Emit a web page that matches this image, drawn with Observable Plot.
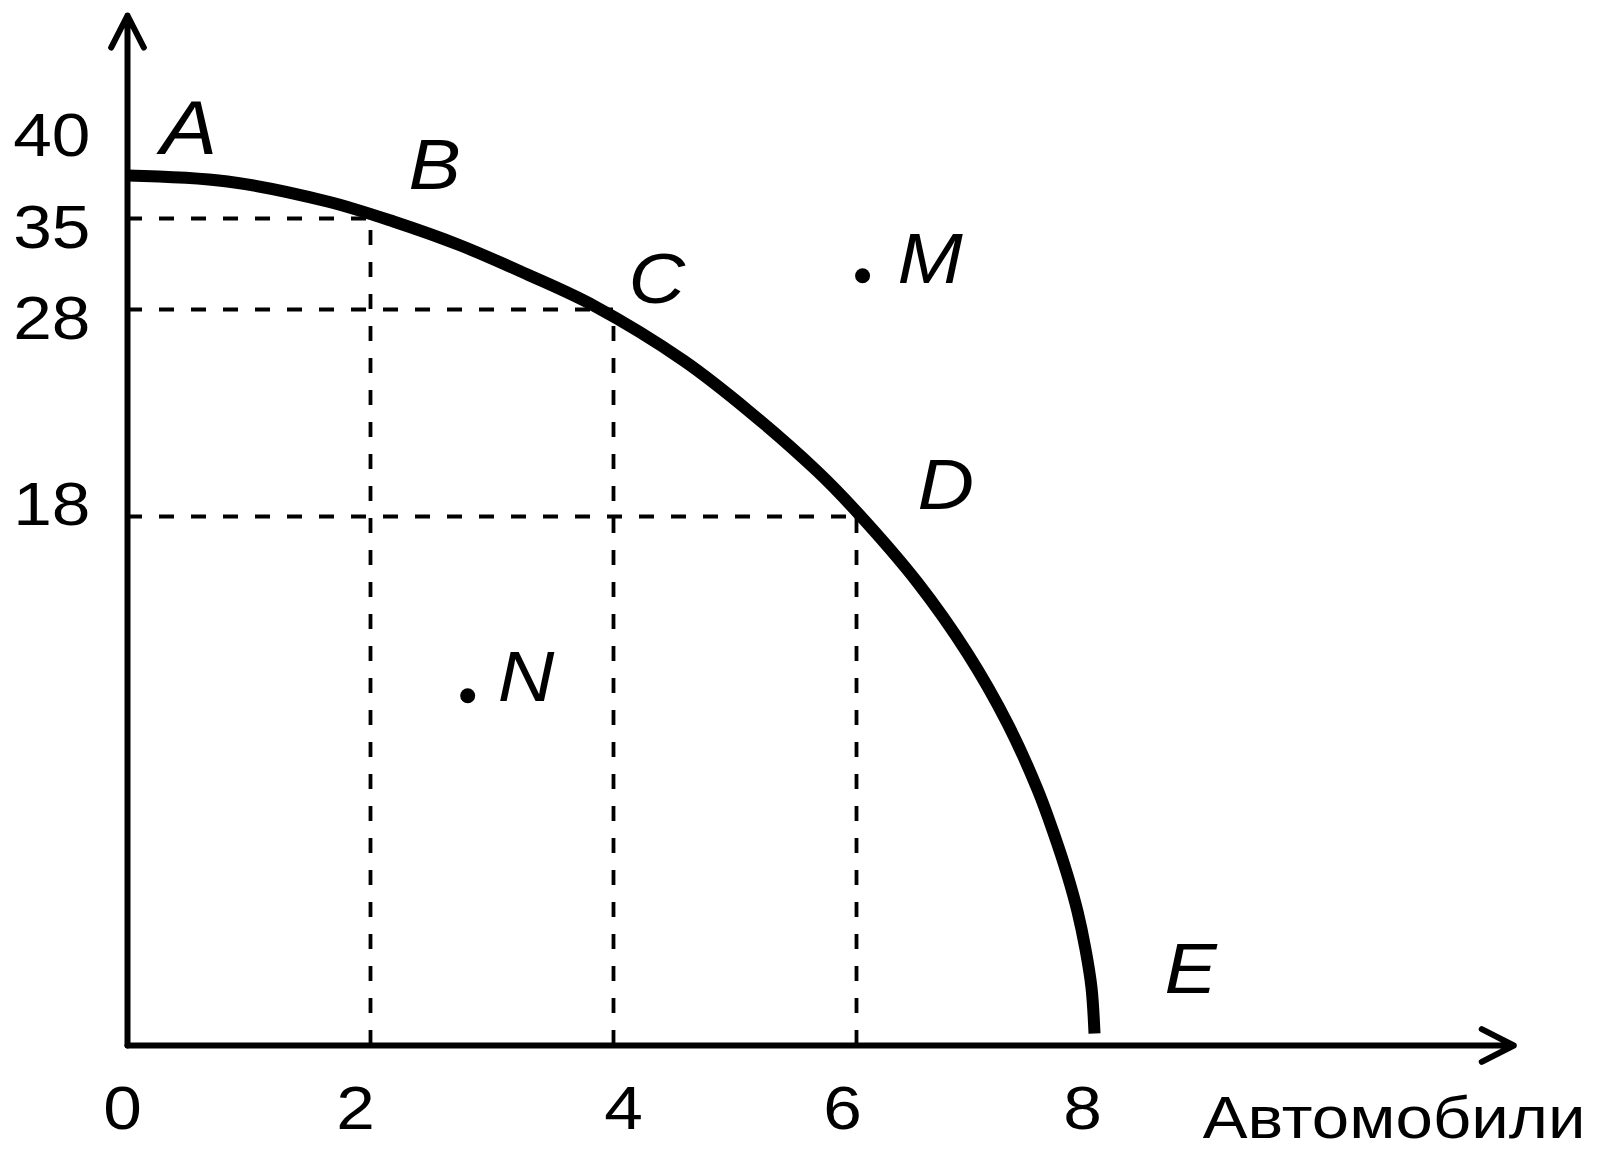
<!DOCTYPE html>
<html>
<head>
<meta charset="utf-8">
<script src="https://cdn.jsdelivr.net/npm/d3@7"></script>
<script src="https://cdn.jsdelivr.net/npm/@observablehq/plot@0.6"></script>
<style>
html, body { margin: 0; padding: 0; background: #fff; }
#chart svg { display: block; }
</style>
</head>
<body>
<div id="chart"></div>
<script>
// Production possibility frontier
const curveX = [0, 0.823, 1.646, 2.189, 2.741, 3.292, 3.835, 4.576, 5.128, 5.679, 5.992, 6.502, 6.914, 7.243, 7.490, 7.621, 7.737, 7.819, 7.885, 7.934, 7.959];
const curveY = [37.337, 37.011, 35.924, 34.769, 32.923, 30.692, 28.308, 25.536, 23.024, 20.174, 18.290, 15.754, 13.338, 10.957, 8.711, 7.248, 5.785, 4.560, 3.267, 1.974, 0.408];

// Labelled points
const pointNames = ["A", "B", "C", "D", "E", "M", "N"];
const pointX = [0, 2, 4, 6, 8, 6.05, 2.8];
const pointY = [37.337, 35, 28, 18, 0, 30.6, 11.9];
const guideNames = ["B", "C", "D"];
const dotNames = ["M", "N"];

// Axes
const xTicks = [0, 2, 4, 6, 8];
const yTicksUpper = [28, 35, 40];
const yTicksLower = [18];
const xAxisEnd = 11.41;
const yAxisEnd = 45;
const xTitle = "Автомобили";

// Tables built from the arrays
const curve = curveX.map((x, i) => ({x, y: curveY[i]}));
const points = pointNames.map((name, i) => ({name, x: pointX[i], y: pointY[i]}));
const guides = points.filter(d => guideNames.includes(d.name));
const dots = points.filter(d => dotNames.includes(d.name));
const axes = [
  {x1: 0, y1: 0, x2: 0, y2: yAxisEnd},
  {x1: 0, y1: 0, x2: xAxisEnd, y2: 0}
];

// Label offsets (style only)
const labelOffset = {
  A: {dx: 33, dy: -21, size: 76},
  B: {dx: 38, dy: -30, size: 70},
  C: {dx: 15, dy: -7, size: 70},
  D: {dx: 61, dy: -8, size: 70},
  E: {dx: 65, dy: -53, size: 70},
  M: {dx: 35, dy: 7, size: 70},
  N: {dx: 30, dy: 5, size: 70}
};
const xTickDx = {0: -5, 2: -15, 4: 10, 6: -14, 8: -17};

const labelMarks = pointNames.map(n => Plot.text(points.filter(d => d.name === n), {
  x: "x", y: "y", text: "name",
  dx: labelOffset[n].dx, dy: labelOffset[n].dy,
  textAnchor: "start", lineAnchor: "bottom",
  fontSize: labelOffset[n].size, fontStyle: "italic", fill: "black"
}));

const xTickMarks = xTicks.map(t => Plot.text([t], {
  x: d => d, y: 0, text: d => String(d), dx: xTickDx[t], dy: 83,
  lineAnchor: "bottom", textAnchor: "middle", fontSize: 62, fill: "black"
}));

const chart = Plot.plot({
  width: 1601,
  height: 1152,
  marginRight: 16,
  marginBottom: 15,
  style: {fontFamily: "'Liberation Sans', Arial, sans-serif", background: "white", color: "black"},
  x: {type: "linear", domain: [0, 8], range: [127, 1099], axis: null},
  y: {type: "linear", domain: [0, 18, 28, 35, 40, 45], range: [1045, 516, 309, 218, 126, 15], axis: null},
  marks: [
    // dashed guides
    Plot.ruleY(guides, {y: "y", x1: 0, x2: "x", stroke: "black", strokeWidth: 3.8, strokeDasharray: "15,17"}),
    Plot.ruleX(guides, {x: "x", y1: 0, y2: "y", stroke: "black", strokeWidth: 3.8, strokeDasharray: "15,17"}),
    // axes with arrows
    Plot.arrow(axes, {x1: "x1", y1: "y1", x2: "x2", y2: "y2", stroke: "black", strokeWidth: 6, headLength: 9, headAngle: 54}),
    // frontier
    Plot.line(curve, {x: "x", y: "y", curve: "catmull-rom", stroke: "black", strokeWidth: 12, strokeLinecap: "butt"}),
    // points M and N
    Plot.dot(dots, {x: "x", y: "y", r: 7.5, fill: "black"}),
    // tick labels
    ...xTickMarks,
    Plot.text(yTicksUpper, {x: 0, y: d => d, text: d => String(d), dx: -37, dy: 10, textAnchor: "end", lineAnchor: "middle", fontSize: 62, fill: "black"}),
    Plot.text(yTicksLower, {x: 0, y: d => d, text: d => String(d), dx: -37, dy: -11, textAnchor: "end", lineAnchor: "middle", fontSize: 62, fill: "black"}),
    // axis title
    Plot.text([xTitle], {frameAnchor: "bottom-right", text: d => d, textAnchor: "end", lineAnchor: "bottom", fontSize: 60, fill: "black"}),
    ...labelMarks
  ]
});

// Slightly wider lettering, as in the reference (horizontal scale about each text's anchor)
d3.select(chart).selectAll("text").each(function () {
  const t = this.getAttribute("transform") || "";
  const x = parseFloat(this.getAttribute("x")) || 0;
  this.setAttribute("transform", `${t} translate(${x},0) scale(1.12,1) translate(${-x},0)`);
});

document.getElementById("chart").appendChild(chart);
</script>
</body>
</html>
